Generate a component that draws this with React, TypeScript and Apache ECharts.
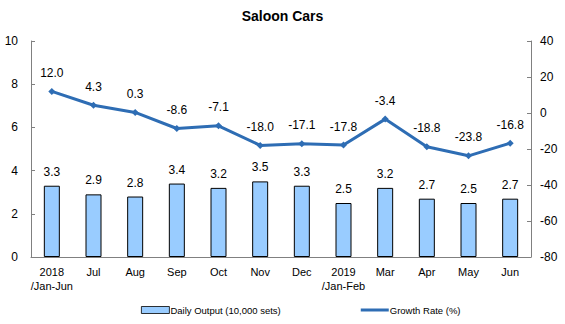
import React, { useEffect, useRef } from "react";
import * as echarts from "echarts";

const categories = ["2018\n/Jan-Jun", "Jul", "Aug", "Sep", "Oct", "Nov", "Dec", "2019\n/Jan-Feb", "Mar", "Apr", "May", "Jun"];
const dailyOutput = [3.3, 2.9, 2.8, 3.4, 3.2, 3.5, 3.3, 2.5, 3.2, 2.7, 2.5, 2.7];
const growthRate = [12.0, 4.3, 0.3, -8.6, -7.1, -18.0, -17.1, -17.8, -3.4, -18.8, -23.8, -16.8];
const title = "Saloon Cars";
const barName = "Daily Output (10,000 sets)";
const lineName = "Growth Rate (%)";

export default function App() {
  const ref = useRef<HTMLDivElement>(null);
  useEffect(() => {
    if (!ref.current) return;
    const chart = echarts.init(ref.current, null, { renderer: "svg" });
    const font = "Arial, 'Liberation Sans', sans-serif";
    chart.setOption({
      animation: false,
      backgroundColor: "#ffffff",
      textStyle: { fontFamily: font },
      title: {
        text: title,
        left: "center",
        top: 4,
        textStyle: { fontSize: 14, fontWeight: "bold", color: "#000", fontFamily: font },
      },
      legend: {
        bottom: 4,
        left: 136,
        itemGap: 80,
        itemWidth: 28,
        itemHeight: 7,
        textStyle: { fontSize: 9.5, color: "#000", fontFamily: font, padding: [0, 0, 0, -4] },
        data: [
          { name: barName, icon: "rect", itemStyle: { color: "#99CCFF", borderColor: "#000", borderWidth: 0.8 } },
          { name: lineName, icon: "path://M0,0 L28,0 L28,3 L0,3 Z", itemStyle: { color: "#2E6DB4", borderWidth: 0 } },
        ],
      },
      grid: { left: 31, right: 34, top: 41, bottom: 67, containLabel: false },
      xAxis: {
        type: "category",
        data: categories,
        axisLine: { lineStyle: { color: "#808080", width: 1 } },
        axisTick: { inside: true, length: 4, lineStyle: { color: "#808080" } },
        axisLabel: { color: "#000", fontSize: 11, lineHeight: 14, margin: 8, interval: 0, fontFamily: font },
        splitLine: { show: false },
      },
      yAxis: [
        {
          type: "value",
          min: 0,
          max: 10,
          interval: 2,
          axisLine: { show: true, lineStyle: { color: "#808080" } },
          axisTick: { show: true, inside: true, length: 4, lineStyle: { color: "#808080" } },
          axisLabel: { color: "#000", fontSize: 12, margin: 13, fontFamily: font },
          splitLine: { show: false },
        },
        {
          type: "value",
          min: -80,
          max: 40,
          interval: 20,
          axisLine: { show: true, lineStyle: { color: "#808080" } },
          axisTick: { show: true, inside: true, length: 4, lineStyle: { color: "#808080" } },
          axisLabel: { color: "#000", fontSize: 12, margin: 9, fontFamily: font },
          splitLine: { show: false },
        },
      ],
      series: [
        {
          name: barName,
          type: "bar",
          data: dailyOutput,
          yAxisIndex: 0,
          barWidth: 16,
          itemStyle: { color: "#99CCFF", borderColor: "#000", borderWidth: 1 },
          label: {
            show: true,
            position: "top",
            distance: 8,
            color: "#000",
            fontSize: 12,
            fontFamily: font,
            formatter: (p: any) => Number(p.value).toFixed(1),
          },
        },
        {
          name: lineName,
          type: "line",
          data: growthRate,
          yAxisIndex: 1,
          symbol: "diamond",
          symbolSize: 7,
          lineStyle: { color: "#2E6DB4", width: 3 },
          itemStyle: { color: "#2E6DB4" },
          label: {
            show: true,
            position: "top",
            distance: 9,
            color: "#000",
            fontSize: 12,
            fontFamily: font,
            formatter: (p: any) => Number(p.value).toFixed(1),
          },
        },
      ],
    });
    return () => chart.dispose();
  }, []);
  return <div ref={ref} style={{ width: 565, height: 324, position: "absolute", left: 0, top: 0 }} />;
}
